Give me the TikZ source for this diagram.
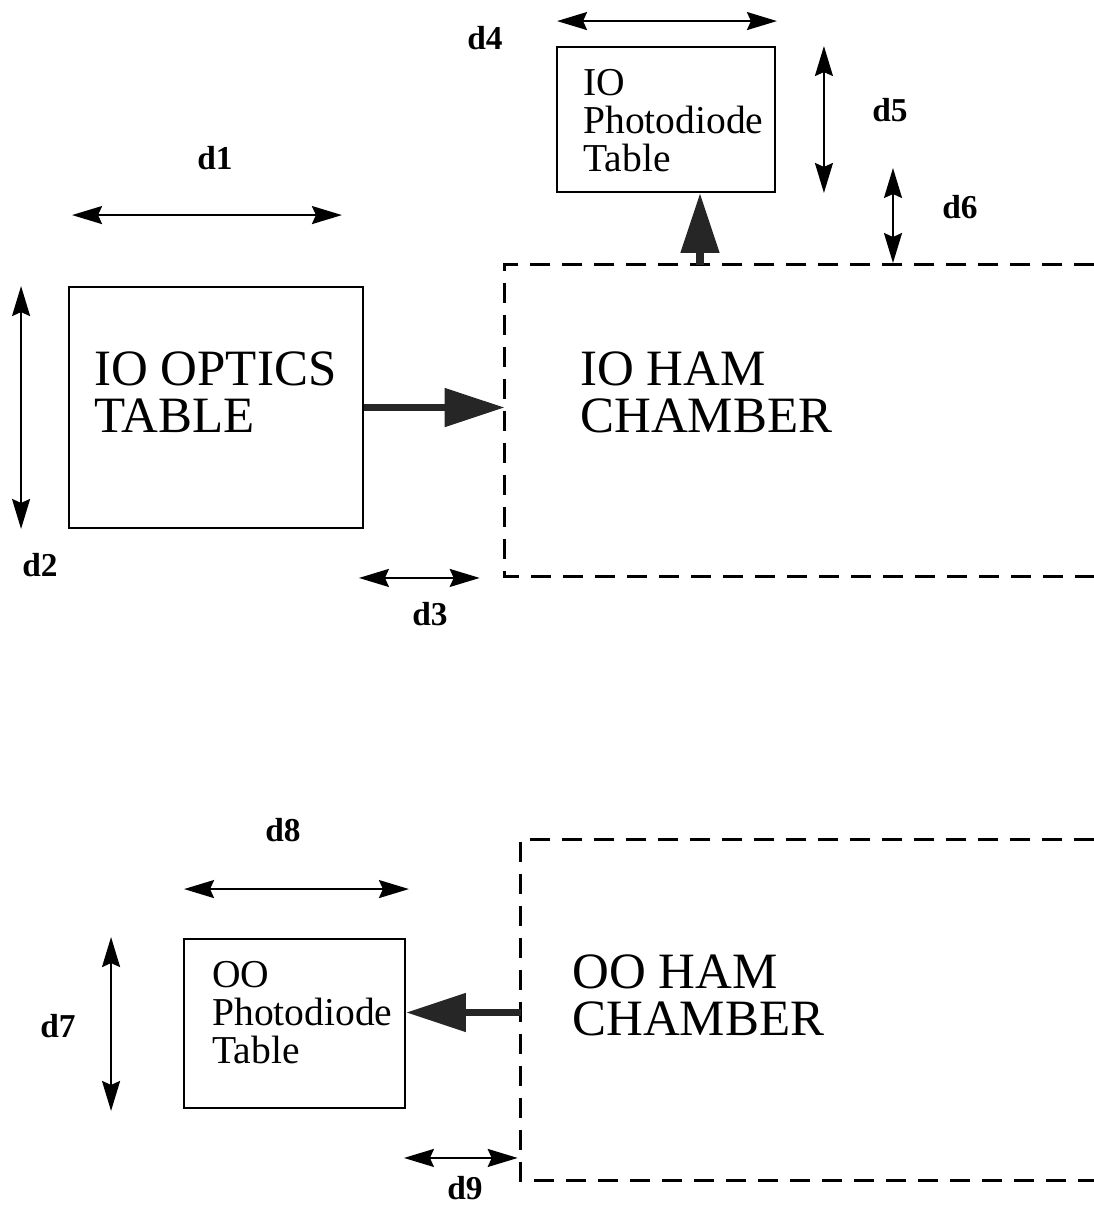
\documentclass[tikz,border=0pt]{standalone}
\usepackage{fontspec}
\setmainfont{Liberation Serif}
\usepackage{tikz}
\usetikzlibrary{
  arrows.meta,
  positioning,
  calc,
}

\begin{document}
\begin{tikzpicture}[
  x=0.02cm, y=-0.02cm,
  tablebox/.style={draw, line width=1.1pt, inner sep=0pt},
  chamber/.style={inner sep=0pt},
  wall/.style={line width=1.4pt, dash pattern=on 0.4cm off 0.24cm},
  dim/.style={{Stealth[length=0.6cm, width=0.36cm, inset=0.08cm]}-{Stealth[length=0.6cm, width=0.36cm, inset=0.08cm]},
              line width=1.2pt},
  beam/.style={-{Triangle[length=1.2cm, width=0.74cm]}, line width=4.5pt, black!85},
  dlabel/.style={inner sep=1pt, font=\fontsize{19}{19}\selectfont\bfseries},
  bigtext/.style={align=left, inner sep=0pt, anchor=north west,
                  font=\fontsize{29}{27}\selectfont},
  smalltext/.style={align=left, inner sep=0pt, anchor=north west,
                    font=\fontsize{22.5}{21.5}\selectfont},
]
  \path[fill=white, use as bounding box] (0,0) rectangle (1094,1205);

  % tables and chambers
  \node[tablebox, minimum width=4.36cm, minimum height=2.9cm]  (iopd)  at (666,119.5) {};
  \node[tablebox, minimum width=5.88cm, minimum height=4.82cm] (iotab) at (216,407.5) {};
  \node[tablebox, minimum width=4.42cm, minimum height=3.38cm] (oopd)  at (294.5,1023.5) {};
  \node[chamber, minimum width=11.78cm, minimum height=6.22cm] (ioham) at (799.5,420.5) {};
  \node[chamber, minimum width=11.46cm, minimum height=6.8cm]  (ooham) at (807.5,1010) {};

  \draw[wall] (ioham.north east) -- (ioham.north west) -- (ioham.south west) -- (ioham.south east);
  \draw[wall] (ooham.north east) -- (ooham.north west) -- (ooham.south west) -- (ooham.south east);

  % texts
  \node[smalltext] (iopdtxt)  at (583,69)  {IO\\Photodiode\\Table};
  \node[bigtext]   (iotabtxt) at (94,351)  {IO OPTICS\\TABLE};
  \node[bigtext]   (iohamtxt) at (580,351) {IO HAM\\CHAMBER};
  \node[smalltext] (oopdtxt)  at (212,961) {OO\\Photodiode\\Table};
  \node[bigtext]   (oohamtxt) at (572,954) {OO HAM\\CHAMBER};

  % beams
  \draw[beam] (iotab.east) -- (iotab.east -| ioham.west);
  \draw[beam] ([xshift=0.68cm]iopd.south |- ioham.north) -- ([xshift=0.68cm]iopd.south);
  \draw[beam] ([yshift=0.22cm]oopd.east -| ooham.west) -- ([yshift=0.22cm]oopd.east);

  % dimensions
  \coordinate (d6top) at (893,168);
  \coordinate (d6bot) at (893,263);
  \draw[dim] ($(iopd.north west)+(1,-25)$) -- ($(iopd.north east)+(1,-25)$);
  \draw[dim] ($(iopd.north east)+(48,0)$) -- ($(iopd.south east)+(48,0)$);
  \draw[dim] (d6top) -- (d6bot);
  \draw[dim] ($(iotab.north west)+(4,-71)$) -- ($(iotab.north east)+(-22,-71)$);
  \draw[dim] ($(iotab.north west)+(-47,0)$) -- ($(iotab.south west)+(-47,0)$);
  \draw[dim] ($(iotab.south east)+(-5,49)$) -- ($(ioham.south west |- iotab.south east)+(-25,49)$);
  \draw[dim] ($(oopd.north west)+(1,-49)$) -- ($(oopd.north east)+(3,-49)$);
  \draw[dim] ($(oopd.north west)+(-72,-1)$) -- ($(oopd.south west)+(-72,2)$);
  \draw[dim] ($(oopd.south east)+(-2,49)$) -- ($(ooham.south west |- oopd.south east)+(-3,49)$);

  % labels
  \node[dlabel] (l1) at (215,158)  {d1};
  \node[dlabel] (l2) at (40,565)   {d2};
  \node[dlabel] (l3) at (430,614)  {d3};
  \node[dlabel] (l4) at (485,38)   {d4};
  \node[dlabel] (l5) at (890,110)  {d5};
  \node[dlabel] (l6) at (960,207)  {d6};
  \node[dlabel] (l7) at (58,1026)  {d7};
  \node[dlabel] (l8) at (283,830)  {d8};
  \node[dlabel] (l9) at (465,1188) {d9};
\end{tikzpicture}
\end{document}
